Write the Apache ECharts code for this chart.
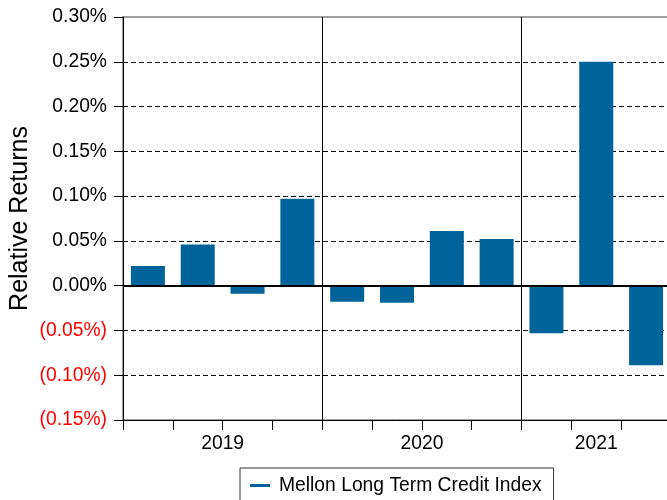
<!DOCTYPE html>
<html><head><meta charset="utf-8">
<script src="https://cdn.jsdelivr.net/npm/echarts@6/dist/echarts.min.js"></script>
<style>html,body{margin:0;padding:0;background:#fff}#c{width:667px;height:500px}</style>
</head><body><div id="c"></div>
<script>
const quarters = ['2019 Q1','2019 Q2','2019 Q3','2019 Q4','2020 Q1','2020 Q2','2020 Q3','2020 Q4','2021 Q1','2021 Q2','2021 Q3'];
const values = [0.022, 0.046, -0.009, 0.097, -0.018, -0.019, 0.061, 0.052, -0.053, 0.250, -0.089];
const seriesName = 'Mellon Long Term Credit Index';
const yMin = -0.15, yMax = 0.30, yStep = 0.05;

// group quarters by year
const years = [];
const yearCount = {};
quarters.forEach(q => { const y = q.split(' ')[0]; if (!(y in yearCount)) { years.push(y); yearCount[y] = 0; } yearCount[y]++; });
const yearCenters = [], yearBounds = [];
let acc = 0;
years.forEach((y, i) => { yearCenters.push(acc + yearCount[y] / 2); acc += yearCount[y]; if (i < years.length - 1) yearBounds.push(acc); });

const FONT = 'Liberation Sans, Arial, sans-serif';
const FS = 19.3;
const chart = echarts.init(document.getElementById('c'));
chart.setOption({
  animation: false,
  grid: { left: 123, top: 17, bottom: 80, width: 548, outerBoundsMode: 'none', containLabel: false,
          show: true, borderColor: '#808080', borderWidth: 1.5, backgroundColor: 'transparent' },
  legend: {
    left: 240, top: 468, padding: [8, 12, 10, 10],
    borderColor: '#333', borderWidth: 1,
    icon: 'rect', itemWidth: 20, itemHeight: 3, itemGap: 10,
    textStyle: { fontFamily: FONT, fontSize: FS, color: '#000', padding: [0, 0, 0, 4] },
    data: [seriesName]
  },
  xAxis: [{
    type: 'category', data: quarters, boundaryGap: true,
    axisLine: { show: true, onZero: false, lineStyle: { color: '#000', width: 1 } },
    axisTick: { show: true, length: 10, lineStyle: { color: '#000' }, interval: 0 },
    axisLabel: { show: false }, splitLine: { show: false }
  }, {
    type: 'value', min: 0, max: quarters.length, position: 'bottom',
    axisLine: { show: false, onZero: false }, axisTick: { show: false }, splitLine: { show: false },
    axisLabel: {
      show: true, customValues: yearCenters, margin: 14,
      fontFamily: FONT, fontSize: FS, color: '#000',
      formatter: v => { const i = yearCenters.indexOf(v); return i >= 0 ? years[i] : ''; }
    }
  }],
  yAxis: {
    type: 'value', min: yMin, max: yMax, interval: yStep,
    name: 'Relative Returns', nameLocation: 'middle', nameGap: 90, nameMoveOverlap: false,
    nameTextStyle: { fontFamily: FONT, fontSize: 25, color: '#000' },
    axisLine: { show: true, lineStyle: { color: '#000' } },
    axisTick: { show: true, length: 9, lineStyle: { color: '#000' } },
    axisLabel: {
      margin: 16, fontFamily: FONT, fontSize: FS,
      formatter: v => { const a = Math.abs(v).toFixed(2) + '%'; return v < -1e-9 ? '{n|(' + a + ')}' : '{p|' + a + '}'; },
      rich: { p: { color: '#000', fontFamily: FONT, fontSize: FS }, n: { color: '#ff0000', fontFamily: FONT, fontSize: FS } }
    },
    splitLine: { show: true, showMinLine: false, showMaxLine: false, lineStyle: { color: '#000', type: [5, 3], width: 1 } }
  },
  series: [{
    name: seriesName, type: 'bar', data: values, barWidth: 34,
    itemStyle: { color: '#00649A' },
    markLine: {
      silent: true, symbol: 'none', label: { show: false },
      lineStyle: { color: '#000', type: 'solid', width: 2 },
      data: [{ yAxis: 0 }]
    }
  }, {
    name: 'sep', type: 'line', xAxisIndex: 1, data: [], silent: true,
    markLine: {
      silent: true, symbol: 'none', label: { show: false },
      lineStyle: { color: '#000', type: 'solid', width: 1 },
      data: yearBounds.map(b => ({ xAxis: b }))
    }
  }]
});
</script></body></html>
